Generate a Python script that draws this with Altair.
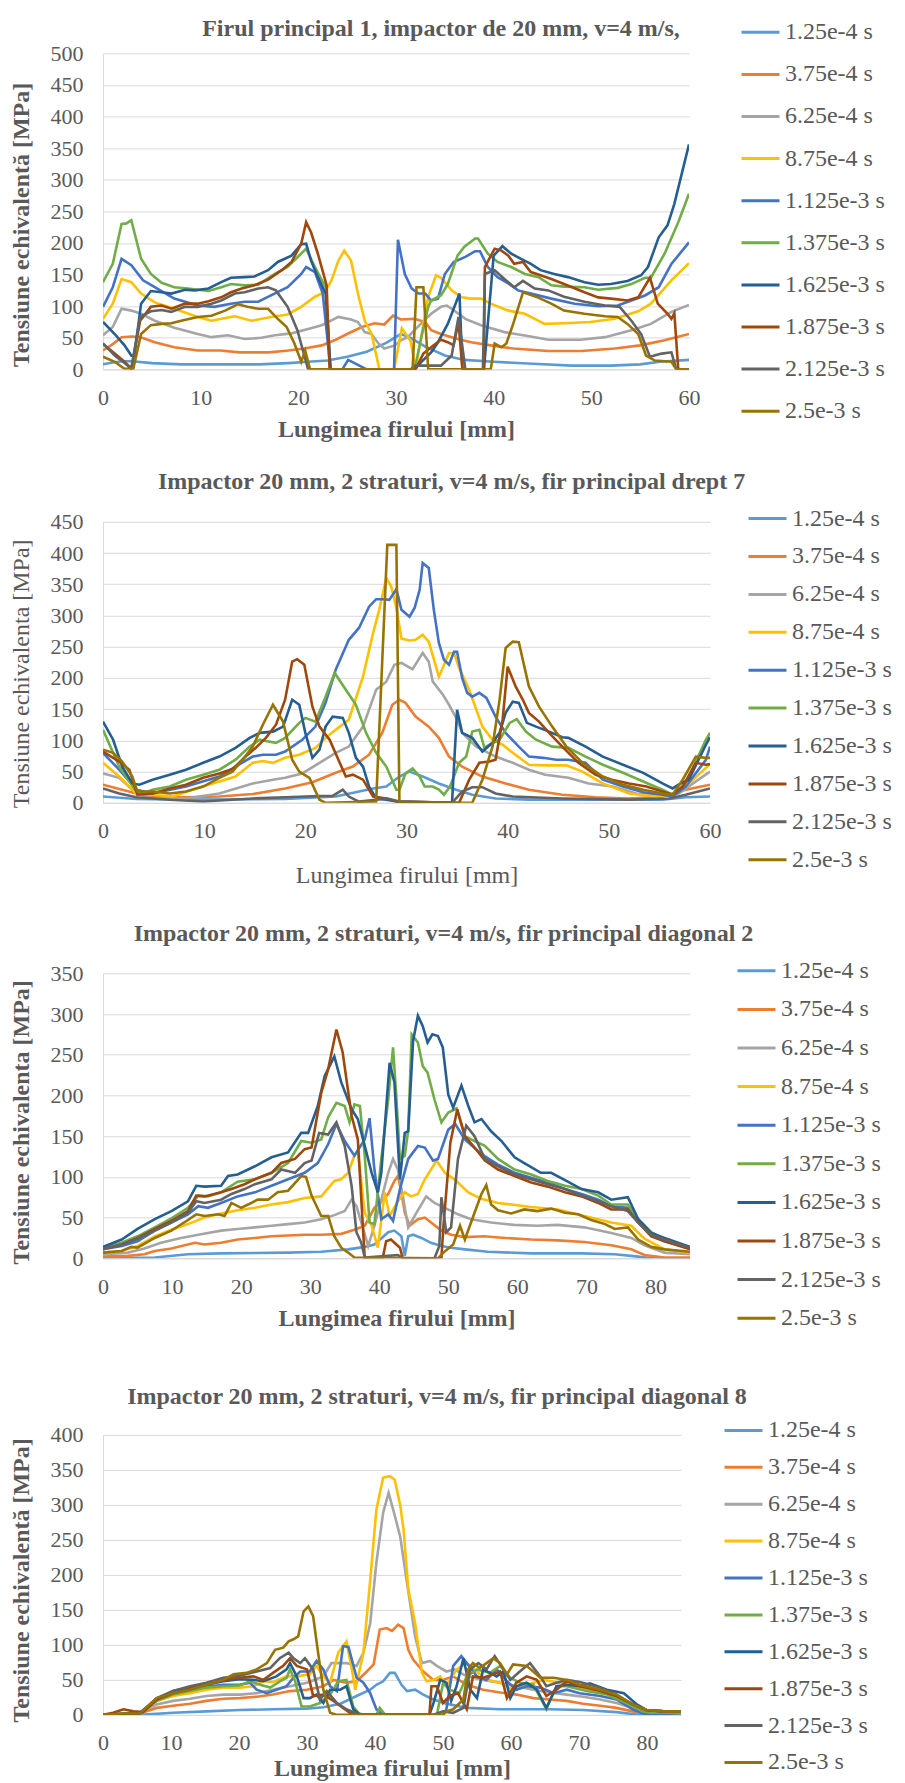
import altair as alt
import pandas as pd

SERIES = ["1.25e-4 s", "3.75e-4 s", "6.25e-4 s", "8.75e-4 s", "1.125e-3 s",
          "1.375e-3 s", "1.625e-3 s", "1.875e-3 s", "2.125e-3 s", "2.5e-3 s"]
COLORS = ["#5B9BD5", "#ED7D31", "#A5A5A5", "#FFC000", "#4472C4",
          "#70AD47", "#255E91", "#9E480E", "#636363", "#997300"]

TITLE1 = "Firul principal 1, impactor de 20 mm, v=4 m/s,"
TITLE2 = "Impactor 20 mm, 2 straturi, v=4 m/s, fir principal drept 7"
TITLE3 = "Impactor 20 mm, 2 straturi, v=4 m/s, fir principal diagonal 2"
TITLE4 = "Impactor 20 mm, 2 straturi, v=4 m/s, fir principal diagonal 8"
XTITLE = "Lungimea firului [mm]"
YTITLE_A = "Tensiune echivalentă [MPa]"
YTITLE_B = "Tensiune echivalenta [MPa]"
XTICKS_60 = [0, 10, 20, 30, 40, 50, 60]
XTICKS_85 = [0, 10, 20, 30, 40, 50, 60, 70, 80]

# ---------------- Panel 1 ----------------
P1_X1 = [0,1,2,3,5,8,12,16,19,21,23,25,27,29,30.5,31.5,33,35,37,40,44,48,52,55,57,60]
P1_Y1 = [8,11,13,13,10,8,8,8,10,12,14,20,28,42,56,50,36,22,15,12,9,6,6,8,12,15]
P1_X2 = [0,1,1.9,3,4,5.3,7.3,9.7,12,14,17,19,20.6,22.4,23.7,25,26.5,27.8,28.8,29.7,30.5,31.9,33,33.6,34.6,36.3,37.7,39.7,42,45.6,49,52.4,55,57.5,60]
P1_Y2 = [30,40,51,52,50,43,35,30,30,27,27,30,33,38,46,56,67,73,71,85,79,80,75,62,56,48,43,38,33,29,29,33,38,46,56]
P1_X3 = [0,1,1.9,2.9,3.9,5.3,7.3,9.7,11.1,12.8,14.5,16.2,17.6,19.3,21,22.4,24.1,25.4,26.1,26.8,27.5,28.2,28.8,29.9,30.5,31.2,32.2,33.6,34.6,35.2,35.7,37.1,38.7,41.1,43.8,45.6,48.9,51.4,54.1,56.1,58.2,60]
P1_Y3 = [54,67,96,93,88,77,66,56,51,54,48,50,54,57,64,70,83,79,75,59,56,41,33,38,46,51,67,88,99,101,96,80,70,59,52,47,47,51,62,72,91,102]
P1_X4 = [0,1,1.9,2.9,3.9,5.3,7.3,9.7,11.1,12.8,13.5,15.2,17.2,18.9,20.3,21.7,22.7,23.4,24.1,24.7,25.4,26.1,26.8,27.5,28.3,29.8,30.6,31.5,32.0,33.3,34.1,34.6,35.7,36.7,37.7,38.7,39.7,41.5,43.2,45.2,47.2,49.9,52.4,54.8,56.1,58.2,60]
P1_Y4 = [80,104,143,138,120,106,96,83,77,82,84,77,83,87,99,115,122,141,172,188,172,120,77,56,0,0,65,45,0,115,149,145,125,114,112,112,104,93,88,72,73,75,80,92,104,141,168]
P1_X5 = [0,1,1.9,2.9,4.1,5.3,7.3,9.7,11.4,13.1,14.5,15.9,17.2,18.9,20.3,20.8,21.7,22.5,23.3,24.5,25.1,26,27,29.8,30.2,30.9,31.6,32.3,33,33.6,34.3,35,35.9,37.1,38.1,38.6,39.4,40.4,41.5,42.5,43.8,45.9,48.3,50.7,52.7,54.1,55.5,56.9,58.2,60]
P1_Y5 = [99,130,175,165,141,130,112,101,99,104,107,107,117,130,151,162,154,120,0,0,15,8,0,0,205,151,128,120,120,109,112,151,170,178,187,187,162,146,136,125,120,112,104,100,101,109,117,130,167,201]
P1_X6 = [0,1,1.9,2.4,2.9,3.9,4.9,6,7.3,8.7,10.8,12.1,13.1,14.5,15.9,17.6,18.9,20.8,21.7,22.8,23.3,31.9,32.6,33.3,33.6,34.6,35.3,36.3,37,38.1,38.4,39.4,40.4,41.8,43.2,44.6,45.9,47.2,49.3,50.7,52.7,54.1,55.5,56.1,57.5,58.9,60]
P1_Y6 = [138,167,230,231,236,175,151,137,130,128,124,130,135,133,134,151,162,191,162,130,0,0,51,99,109,117,135,180,194,207,207,183,170,162,151,146,133,131,130,126,129,135,145,145,183,233,278]
P1_X7 = [0,1.2,2.2,2.9,3.2,3.9,4.9,6,7,8.4,9.4,10.8,12.1,13.1,14.5,15.5,16.9,17.9,19.3,20.3,20.8,21.3,22,22.8,23.3,31.9,32.6,33.6,34.3,35.3,36.1,36.5,36.8,39.0,40.0,40.9,41.8,42.8,43.8,44.8,46.2,47.6,49.3,50.7,52,53.7,55.1,55.8,56.9,57.8,58.5,60]
P1_Y7 = [75,56,38,22,21,104,124,122,120,126,125,128,138,145,146,147,157,170,180,198,199,172,146,120,0,0,12,27,43,72,104,120,0,0,180,195,183,175,167,157,151,146,138,134,135,140,149,162,209,228,262,356]
P1_X8 = [0,1.2,2.2,2.9,3.8,4.9,6,7,8.4,9.7,10.8,12.1,13.1,14.2,15.5,16.9,18.3,19.3,20.3,20.8,21.3,22,22.9,23.2,32.0,32.8,33.6,34.6,35.3,35.9,36.4,36.8,39.0,39.1,40.1,40.8,41.5,42.1,43,43.8,44.8,45.9,47.2,49.3,50.7,52,53.7,54.8,56,56.8,57.8,58.2,58.5,58.9,60]
P1_Y8 = [40,25,12,1,77,99,101,96,104,104,108,114,122,128,133,142,157,170,199,233,217,183,133,0,0,25,35,47,43,38,75,0,0,162,191,188,180,167,170,154,149,143,135,122,114,112,109,114,145,104,88,80,89,0,0]
P1_X9 = [0,1.2,2.2,2.9,3.8,4.9,6,7,8.4,9.7,11.1,12.1,13.5,14.5,15.9,16.9,17.7,18.9,19.9,21,31.5,31.9,34.6,35.7,36.4,37.1,38.9,39.1,40.1,41.1,42.1,43,44.2,45.6,47.2,49.3,51.4,52.9,54.1,55.1,56,57.2,58.2,58.7,60]
P1_Y9 = [41,22,10,1,83,92,94,91,99,99,104,109,120,122,128,130,125,99,62,0,0,6,6,22,83,0,0,151,157,143,130,140,128,125,115,107,101,99,77,56,20,25,27,0,0]
P1_X10 = [0,1.2,2.2,3.1,3.9,4.9,6,7,8,9.7,11.1,12.5,13.8,14.8,15.9,16.9,17.9,18.8,19.6,20.3,20.7,21.2,31.7,32.1,32.8,33.3,39.7,40.1,40.8,41.3,42,43,44.5,45.9,47.2,49.3,51.4,52.7,53.7,54.8,55.6,56.5,58.2,58.7,60]
P1_Y10 = [20,12,1,1,56,70,72,73,77,83,85,93,103,99,96,96,80,67,41,12,30,0,0,130,130,0,0,41,35,41,72,122,114,104,93,88,84,83,72,56,22,14,12,0,0]

# ---------------- Panel 2 ----------------
P2_X1 = [0,3.3,8.2,18,23,26.7,28,29.3,30.3,31.6,33.2,34.9,36.5,38.8,42.1,48.7,55.3,57.6,60]
P2_Y1 = [10,6,5,6,10,23,26,42,50,42,31,21,13,7,5,5,5,9,10]
P2_X2 = [0,3.3,4.9,8.2,11.5,14.8,18,20.7,23,24.7,26.3,27.6,28.6,29.3,29.9,30.9,32.2,33.2,34.2,35.5,37.5,39.8,42.1,45.4,48.7,52,55.3,57.6,60]
P2_Y2 = [29,15,10,9,10,14,23,33,48,58,77,112,157,165,160,138,122,104,74,58,42,31,21,13,9,7,10,21,29]
P2_X3 = [0,1.6,3.3,4.9,8.2,11.5,14.8,16.8,18,19.7,21.4,23,24.3,25.7,27,28,28.8,29.5,30.6,31.6,32.2,32.6,33.6,34.2,35,35.5,36.9,38.8,40.5,42.1,43.7,46,48,50.4,52.7,55.3,56.9,60]
P2_Y3 = [47,40,15,7,7,15,31,37,40,47,64,80,90,122,181,194,221,224,214,240,226,194,173,157,133,112,90,74,64,53,45,40,31,26,15,11,15,50]
P2_X4 = [0,1.6,3.3,4.9,6.9,9.2,11.5,13.1,14.8,15.8,16.8,18,19.4,21,22,23.4,24.3,25.7,26.7,27.3,28,28.5,29,29.5,30.3,30.9,31.6,32.2,33.2,34.2,34.7,35.2,36.2,37.5,38.5,39.5,40.5,42.1,43.7,45.8,47.4,49.4,52,54.7,56.3,57.6,60]
P2_Y4 = [64,42,15,13,10,23,34,42,64,67,64,72,77,88,104,122,133,202,272,309,360,346,312,263,260,261,269,258,202,240,240,216,181,122,101,93,80,61,60,60,50,31,15,10,13,26,62]
P2_X5 = [0,1.6,3.3,4.9,8.2,11.5,13.1,14.8,15.8,17.1,18,19.7,21,22,23,24.3,25.3,26.3,27,27.8,28.3,29,29.5,30.3,30.8,31.3,31.6,32.2,32.7,33.2,33.7,34.2,34.7,35,35.5,36,36.5,37.2,37.9,38.8,39.8,41.1,42.1,43.5,44.8,46,47.7,49.4,51.4,53.4,55.3,56.3,57.6,59.6,60]
P2_Y5 = [80,53,21,15,26,42,58,74,77,77,82,101,122,160,213,261,280,314,326,326,325,342,309,298,312,341,384,376,309,256,229,221,242,242,200,176,170,176,168,138,112,90,74,72,69,69,64,37,26,17,13,10,26,69,90]
P2_X6 = [0,1.6,3.3,3.9,4.9,6.6,8.2,9.9,11.5,13.1,14.5,15.5,16.1,17.1,18,19.4,20,21,22,22.9,24,25,26,27,28,29,29.3,29.9,30.6,31.3,31.8,32.6,33.2,33.7,34.3,35.2,35.9,36.5,37.2,37.7,38.2,39.2,40.2,40.9,41.8,42.8,44.4,46,47.7,49.4,51.4,53.4,55.3,56.3,57.6,59.6,60]
P2_Y6 = [117,58,18,15,21,26,37,45,53,69,90,101,99,96,104,128,136,130,170,208,181,157,112,80,58,21,21,47,55,42,26,26,21,13,26,64,74,114,117,88,93,101,128,134,114,101,90,88,74,61,48,34,21,13,31,101,112]
P2_X7 = [0,1,1.9,2.9,3.6,4.9,6.6,8.2,9.9,11.5,13.1,14.5,15.5,16.8,17.8,18.7,19.4,20,20.7,21.4,22,22.7,23.7,24.3,25,25.7,26.3,27,28,29,34.5,35,35.5,36.5,37.5,38.5,39.2,39.8,40.5,41.1,41.9,42.8,44.1,45.4,46,47.7,49.4,51.4,53.4,55.3,56.3,56.9,57.9,59.6,60]
P2_Y7 = [130,101,58,31,29,37,45,53,64,74,88,104,112,114,122,165,157,112,72,85,122,138,136,112,72,58,26,7,5,2,0,149,112,104,82,96,112,144,162,160,128,122,114,105,104,90,74,61,48,31,23,29,37,93,105]
P2_X8 = [0,1.6,2.6,3.4,4.9,6.6,8.2,9.9,11.5,12.8,14.1,15.1,16.1,17.1,18,18.7,19.2,19.9,20.7,21.4,22.4,23.4,24,24.7,25.7,26.7,28,29,35.2,36.2,37.2,38.2,38.8,39.5,40,40.8,41.5,42.1,43.1,44.1,45.4,47,48.7,50.3,52,53.7,55.3,56.3,57.3,58.6,59.6,60]
P2_Y8 = [82,66,53,13,15,23,29,40,47,54,74,88,104,125,165,226,230,221,154,122,101,64,42,45,37,10,7,2,0,37,64,66,69,133,218,186,165,144,130,112,90,64,45,37,31,26,18,13,26,64,61,62]
P2_X9 = [0,1.6,3.3,6.6,9.9,14.8,18,21.4,22.7,23.7,24.3,25.3,27,28,29.3,34.5,35.5,36.5,37.5,38.8,40.5,45.4,52,56,57.6,60]
P2_Y9 = [23,15,9,5,2,7,9,11,11,21,10,2,5,7,2,0,18,25,25,15,10,7,5,7,13,23]
P2_X10 = [0,1,1.9,2.9,3.4,4.9,6.6,8.2,9.9,11.5,12.8,13.8,14.8,15.8,16.8,17.8,18.7,19.4,20.4,21.4,22,27,28.1,29,29.3,36.5,37.5,38.5,39.2,39.8,40.5,41.1,42.1,43.1,44.4,45.8,47.4,49.4,51.4,53.4,55.3,56.3,57.3,58.6,59.6,60]
P2_Y10 = [85,80,66,42,18,18,15,18,26,40,50,69,90,125,157,130,69,50,40,5,0,2,413,413,0,0,37,90,165,248,258,257,186,154,122,90,64,42,29,21,15,13,37,74,72,72]

# ---------------- Panel 3 ----------------
P3_X1 = [0,7.5,12.3,17,26.8,31.6,35.5,37.9,39.3,41.3,42.2,43.2,43.7,44.2,44.9,46.1,47.5,49,50.4,52.4,55.7,62,69.3,74.1,77.5,79.4,85]
P3_Y1 = [0,1,5,6,7,8,11,14,17,32,34,27,3,27,29,25,19,15,13,11,8,6,6,5,2,0,0]
P3_X2 = [0,3.6,6,7.5,9.9,13.3,14.7,17.1,19.5,22,24.4,26.8,29.2,31.6,34.5,36.4,37.9,39.3,40.3,41.3,42.2,42.7,43.2,43.7,44.4,45.6,46.6,47.5,49,50.4,52.4,55.2,58.2,62,65.8,69.7,73.6,76.5,78.4,81.3,85]
P3_Y2 = [2,3,5,9,12,19,17,19,23,25,27,28,29,29,30,35,40,62,70,79,95,101,81,56,40,48,50,44,34,29,26,27,25,23,22,20,16,11,4,1,1]
P3_X3 = [0,3.6,6,8.4,11.3,13.8,17.1,19.5,22,24.4,26.8,29.2,31.6,33.5,35,36,36.7,37.4,38.4,39.3,40.3,41.3,42,42.7,43.4,44.2,45.4,46.8,48,49.5,51.4,53.3,56.2,59.5,62.9,65.8,69.7,73.6,76.5,78.4,81.3,85]
P3_Y3 = [5,7,12,19,25,29,34,36,38,40,42,44,48,53,58,72,64,44,15,40,72,105,122,109,77,38,56,76,68,62,54,48,44,41,40,41,38,31,25,16,7,5]
P3_X4 = [0,2.7,5,7.5,9.9,12.3,14.7,17.1,19.5,22,24.4,26.8,29.2,31.6,33.5,34.5,35.5,36.4,36.9,37.9,38.9,39.8,40.8,41.5,42.7,43.7,44.6,45.6,46.6,48.3,49.5,50.9,52.9,54.8,57.2,59.1,62,65.9,69.7,73.6,76.5,78.4,81.3,85]
P3_Y4 = [7,9,15,27,35,42,50,55,59,62,66,69,74,76,95,97,105,126,132,56,40,13,81,52,70,81,76,79,97,120,105,97,81,73,68,66,63,60,52,44,40,24,11,7]
P3_X5 = [0,2.7,5,7.5,9.9,12.3,13.8,15.2,17.1,19.5,22,24.4,26.8,29.2,31.1,32.6,33.8,35,36.4,37.9,38.6,39.3,40.3,41.3,42,43,44.2,45.6,46.6,47.8,48.5,50,51,52.4,54.8,57.2,59.6,62,64.4,66.9,69.3,71.7,73.6,76,77.5,79.4,81.3,85]
P3_Y5 = [11,15,21,34,44,54,64,62,68,76,81,89,97,105,117,140,165,144,126,146,172,109,48,54,46,85,122,138,136,120,122,158,165,146,128,115,105,99,93,85,79,72,64,62,44,29,21,13]
P3_X6 = [0,2.7,5,7.5,9.9,12.3,13.8,15.2,17.1,19.5,22,24.4,26.8,28.7,30.2,31.6,32.6,33.8,35,35.7,36.4,37.2,37.9,38.6,39.3,40.3,41.3,42,42.5,43,43.7,44.2,44.7,45.6,46.3,47,48,49,50,51.2,52.4,53.8,55.3,57.2,59.6,62,64.4,66.9,69.3,71.7,73.6,76,77.5,79.4,81.3,85]
P3_Y6 = [13,19,27,38,49,62,77,76,81,94,97,105,117,144,142,146,173,191,187,167,189,187,126,44,42,122,195,259,195,122,126,158,275,265,236,228,195,167,179,184,150,144,138,122,109,103,95,89,85,77,66,66,48,32,23,13]
P3_X7 = [0,2.7,5,7.5,9.9,12.3,13.5,14.7,17.1,18.1,19.5,22,24.4,26.8,28.7,29.7,31.1,32.1,33.5,34.5,36,36.9,37.9,38.9,39.8,40.3,41.5,42.2,43,43.7,44.2,44.9,45.6,46.3,47,47.7,48.5,49.2,50,50.7,51.9,52.9,53.8,54.8,56.2,57.7,59.6,61,63.4,64.9,66.9,69.3,71.7,73.6,76,77.5,79.4,81.3,85]
P3_Y7 = [14,23,36,48,58,70,89,88,89,101,103,113,124,130,154,154,187,224,248,216,183,171,138,105,81,105,240,216,97,154,156,267,298,285,265,275,273,259,201,185,212,187,167,171,156,144,124,117,105,105,96,85,81,72,75,48,31,25,14]
P3_X8 = [0,2.7,5,7.5,9.9,12.3,13.5,14.7,17.1,18.6,20.5,22,24.4,25.8,27.8,29.2,30.2,31.6,32.6,33.8,34.7,36,36.9,37.9,40.5,41,41.7,43,43.4,49,49.3,50.3,51.3,52.4,53.8,55.3,57.2,59.6,62,64.4,66.9,69.3,71.7,73.6,76,77.5,79.4,81.3,85]
P3_Y8 = [11,17,25,36,46,58,77,76,81,85,91,97,105,117,122,134,136,203,232,281,253,175,146,0,0,21,23,13,0,0,40,142,183,150,136,120,109,101,93,88,81,76,68,60,60,44,27,21,11]
P3_X9 = [0,2.7,5,7.5,9.9,12.3,13.5,14.7,17.1,18.6,20.5,22,24.4,25.8,27.8,29.2,30.2,31.3,32.6,33.8,35,36,36.7,37.4,37.9,41.3,42.7,43.5,48,48.7,49,49.7,50.4,51.4,52.6,53.8,55.3,57.2,59.6,62,64.4,66.9,69.3,71.7,73.6,76,77.5,79.4,81.3,85]
P3_Y9 = [12,17,24,34,44,56,70,68,72,79,85,91,97,109,105,117,120,154,152,167,138,89,32,19,1,3,4,0,0,15,75,32,38,122,163,150,122,113,103,97,91,85,77,70,64,58,44,29,23,13]
P3_X10 = [0,2.7,4.1,5,7.5,9.9,12.3,13.5,14.7,16.7,17.6,18.6,20,21,22.4,23.9,25.3,26.8,28.7,29.4,30.2,31.6,32.6,33.5,34.5,35.5,36.4,48.5,49.3,50.7,51.7,52.4,53.8,54.8,55.5,56.2,57.2,59.1,61,62.9,64.9,66.9,68.8,70.7,72.7,74.1,76,77.5,79.4,81.3,85]
P3_Y10 = [7,9,14,13,25,34,47,54,52,54,52,68,62,66,72,72,81,83,101,100,77,52,52,27,13,7,1,0,7,17,40,23,56,79,90,66,59,55,60,58,61,56,54,47,42,36,38,23,14,11,8]

# ---------------- Panel 4 ----------------
P4_X1 = [0,5.4,10.3,15.2,20.1,25,30,32.4,34.9,37.3,39.3,40.2,41.2,42.2,42.9,43.9,44.7,45.9,47.1,48.6,50.5,53.5,58.4,65.7,70.6,75.5,78.9,85]
P4_Y1 = [0,0,3,5,7,8,9,11,16,27,36,43,48,60,60,43,34,36,29,22,16,10,8,8,7,4,0,0]
P4_X2 = [0,5.4,7.9,10.3,12.8,15.2,17.7,20.1,22.6,25,27.5,30,32.4,33.9,35.8,37.3,38.8,39.8,40.7,41.7,42.5,43.4,44.2,44.9,45.6,47.1,48.6,50,51.5,53.5,55.9,58.4,60.8,63.3,65.7,68.2,70.6,73.1,75.5,77.9,80.4,85]
P4_Y2 = [0,2,10,13,16,20,23,24,26,29,34,36,41,50,46,48,62,72,122,124,120,129,124,93,79,62,50,50,55,43,36,32,29,24,22,20,16,13,10,5,1,0]
P4_X3 = [0,5.4,7.9,10.3,12.8,15.2,17.7,20.1,22.6,25,27.5,30,32.4,33.6,35.8,37.3,38.3,39.3,40.2,41.2,42,42.9,43.7,44.7,45.9,46.9,48.1,49.1,50.5,51.7,53.5,55.9,58.4,60.8,63.3,65.7,68.2,70.6,73.1,75.5,77.9,80.4,85]
P4_Y3 = [0,3,15,20,23,27,29,29,31,36,41,46,55,74,74,70,89,131,217,289,317,285,255,189,112,74,77,70,62,65,55,50,46,41,36,32,29,26,22,17,10,4,2]
P4_X4 = [0,5.4,7.9,10.3,12.8,15.2,17.7,20.1,22.1,23.6,25,27,28.5,30.4,31.4,32.4,33.4,34.6,35.8,36.6,37.1,38.3,39.3,40.2,41.2,42.2,42.9,43.7,44.2,44.9,45.9,46.9,47.6,48.6,49.6,50.5,52,53.5,55,56.4,58.4,60.3,62.3,64.8,67.2,70.1,73.1,75.5,77.9,80.4,85]
P4_Y4 = [0,2,20,27,31,36,39,39,41,48,47,55,55,58,70,55,46,89,105,65,36,89,193,293,339,341,336,300,265,179,131,60,48,50,55,41,65,74,62,50,46,36,43,50,46,39,34,27,12,4,2]
P4_X5 = [0,5.4,7.9,10.3,12.8,15.2,17.7,20.1,21.6,22.6,24.1,25.5,27,28,29,30.4,31.4,32.4,33.4,34.4,35.3,36.1,37.3,38.3,39.3,40.2,41.2,50,50.5,51.5,52.7,53.5,55,56.4,57.9,59.4,60.8,62.3,64.3,66.3,68.2,70.1,73.1,75.5,77.9,79.9,85]
P4_Y5 = [0,3,22,31,36,40,43,43,46,36,31,36,41,53,62,62,77,65,41,34,98,97,53,46,31,8,0,0,8,70,84,74,55,50,65,48,36,41,39,31,36,31,27,22,8,0,0]
P4_X6 = [0,5.4,7.9,10.3,12.8,15.2,17.7,20.1,21.6,23.1,24.6,26,27,27.5,28.2,29.2,30.4,31.9,33.4,34.6,35.8,36.8,37.8,40.2,40.7,41.5,49.1,50,51,52.4,53.5,55,56.9,58.4,59.9,61.3,63.3,65.2,66.7,68.2,71.1,74.1,77,79.4,85]
P4_Y6 = [0,2,20,29,34,39,41,42,48,43,39,48,53,65,50,12,12,17,29,48,50,12,0,0,10,0,0,45,36,31,55,65,60,70,53,46,43,8,41,41,34,29,17,5,2]
P4_X7 = [0,5.4,7.9,10.3,12.8,15.2,17.7,20.1,22.1,23.6,25.5,27,27.5,28.5,29.5,30.4,31.4,32.4,33.4,34.9,35.8,36.8,37.8,48,48.6,49.6,50.5,51.2,52,53,54,55,55.9,56.9,57.9,58.9,59.9,60.8,62.3,63.8,65.2,66.7,68.2,70.1,71.6,74.1,76.6,78.5,79.9,82.5,85]
P4_Y7 = [0,2,22,34,39,43,48,51,50,48,55,65,74,55,24,24,29,17,36,36,41,8,0,0,17,50,46,20,41,81,36,24,65,60,55,62,24,41,46,36,10,41,43,41,45,36,31,15,7,5,5]
P4_X8 = [0,1.5,3,4.5,5.9,7.9,10.3,12.8,15.2,17.7,20.1,22.1,23.6,25,26.5,27.5,28.5,30,30.9,32.4,33.9,35.3,36.3,37.3,48,48.3,49.1,50,51,52.2,53.5,54.4,55.9,57.4,58.4,59.4,60.8,62.3,63.8,65.2,66.7,68.2,70.1,73.1,75.5,77.9,79.9,82.5,85]
P4_Y8 = [0,3,8,5,4,22,31,39,43,50,53,55,50,60,70,81,70,65,27,29,20,10,3,0,0,41,41,17,27,31,8,55,53,58,62,24,46,55,50,27,36,48,41,34,27,15,7,5,5]
P4_X9 = [0,5.4,7.9,10.3,12.8,15.2,17.7,20.1,22.6,24.6,26,27.3,28,29,29.7,30.9,31.9,32.9,34.4,35.8,37.3,38.8,48.5,50,51.5,53,54,55.2,56.4,57.6,58.9,59.9,61.3,62.8,64.3,65.2,66.7,68.2,70.1,73.1,75.5,77.9,79.9,82.5,85]
P4_Y9 = [0,2,24,34,41,46,53,56,62,67,81,89,81,74,81,65,22,34,17,8,2,0,0,5,3,10,65,74,65,84,65,50,62,74,55,41,46,50,47,39,29,15,7,5,5]
P4_X10 = [0,3,5.4,7.9,10.3,12.8,15.2,17.7,19.2,21.1,22.6,24.1,25.3,26.5,27.3,28,28.7,29.5,30.2,30.9,31.7,32.4,33.4,34.4,50,50.5,51.5,53,53.7,54.4,55.4,56.4,57.4,58.4,59.4,60.3,62.3,64.3,66.3,68.2,70.1,73.1,75.5,77.9,79.9,82.5,85]
P4_Y10 = [0,2,2,24,31,36,43,50,58,60,65,74,93,96,105,108,112,148,155,141,84,36,3,0,0,5,8,22,65,74,67,74,81,74,58,72,70,53,53,50,43,36,29,15,7,5,5]

FONT = "Liberation Serif"
GREY = "#595959"
GRID = "#D9D9D9"


def make_df(xs, ys):
    rows = []
    for name, xl, yl in zip(SERIES, xs, ys):
        if len(xl) != len(yl):
            raise ValueError(f"{name}: {len(xl)} x vs {len(yl)} y")
        for i, (a, b) in enumerate(zip(xl, yl)):
            rows.append({"series": name, "x": a, "y": b, "i": i})
    return pd.DataFrame(rows)


def panel(df, title, width, height, xmax, xticks, ymax, ytitle, bold,
          title_offset, title_dx, xtitle_pad, ytitle_shift, leg_x, leg_y, leg_row_pad):
    weight = "bold" if bold else "normal"
    xaxis = alt.Axis(values=xticks, title=XTITLE, grid=False, ticks=False, tickSize=0,
                     labelPadding=18, titlePadding=xtitle_pad, titleFontWeight=weight,
                     labelFlush=False, labelOverlap=False,
                     labelFont=FONT, labelFontSize=22, labelColor=GREY,
                     titleFont=FONT, titleFontSize=24, titleColor=GREY,
                     domainColor=GRID, domainWidth=1)
    yaxis = alt.Axis(values=list(range(0, ymax + 1, 50)), title=ytitle, grid=True,
                     ticks=False, tickSize=0, labelPadding=20, titlePadding=17,
                     titleX=-70, titleY=height / 2 + ytitle_shift,
                     titleFontWeight=weight, labelOverlap=False,
                     labelFont=FONT, labelFontSize=22, labelColor=GREY,
                     titleFont=FONT, titleFontSize=24, titleColor=GREY,
                     domainColor=GRID, domainWidth=1, gridColor=GRID, gridWidth=1)
    legend = alt.Legend(title=None, orient="none", legendX=leg_x, legendY=leg_y,
                        direction="vertical", symbolType="stroke", symbolSize=1444,
                        symbolStrokeWidth=3, labelFont=FONT, labelFontSize=24,
                        labelColor=GREY, labelOffset=4, rowPadding=leg_row_pad,
                        padding=0, labelLimit=200)
    return alt.Chart(df).mark_line(strokeWidth=2.6, clip=True).encode(
        x=alt.X("x:Q", scale=alt.Scale(domain=[0, xmax], nice=False), axis=xaxis),
        y=alt.Y("y:Q", scale=alt.Scale(domain=[0, ymax], nice=False), axis=yaxis),
        color=alt.Color("series:N", scale=alt.Scale(domain=SERIES, range=COLORS), legend=legend),
        order=alt.Order("i:Q"),
    ).properties(
        width=width, height=height,
        title=alt.TitleParams(title, offset=title_offset, dx=title_dx, anchor="middle",
                              frame="group", fontWeight="bold", fontSize=24,
                              font=FONT, color=GREY),
    )


df1 = make_df([P1_X1, P1_X2, P1_X3, P1_X4, P1_X5, P1_X6, P1_X7, P1_X8, P1_X9, P1_X10],
              [P1_Y1, P1_Y2, P1_Y3, P1_Y4, P1_Y5, P1_Y6, P1_Y7, P1_Y8, P1_Y9, P1_Y10])
df2 = make_df([P2_X1, P2_X2, P2_X3, P2_X4, P2_X5, P2_X6, P2_X7, P2_X8, P2_X9, P2_X10],
              [P2_Y1, P2_Y2, P2_Y3, P2_Y4, P2_Y5, P2_Y6, P2_Y7, P2_Y8, P2_Y9, P2_Y10])
df3 = make_df([P3_X1, P3_X2, P3_X3, P3_X4, P3_X5, P3_X6, P3_X7, P3_X8, P3_X9, P3_X10],
              [P3_Y1, P3_Y2, P3_Y3, P3_Y4, P3_Y5, P3_Y6, P3_Y7, P3_Y8, P3_Y9, P3_Y10])
df4 = make_df([P4_X1, P4_X2, P4_X3, P4_X4, P4_X5, P4_X6, P4_X7, P4_X8, P4_X9, P4_X10],
              [P4_Y1, P4_Y2, P4_Y3, P4_Y4, P4_Y5, P4_Y6, P4_Y7, P4_Y8, P4_Y9, P4_Y10])

p1 = panel(df1, TITLE1, 586, 316, 60, XTICKS_60, 500, YTITLE_A, True,
           -29.6, 45, 9, 13, 637, -41.6, 9.1)
p2 = panel(df2, TITLE2, 607, 281, 60, XTICKS_60, 450, YTITLE_B, False,
           3.7, 45, 22, 11, 644, -23.7, 4.9)
p3 = panel(df3, TITLE3, 587, 285, 85, XTICKS_85, 350, YTITLE_B, True,
           3.8, 47, 9, 6, 633, -23, 5.6)
p4 = panel(df4, TITLE4, 578, 280, 85, XTICKS_85, 400, YTITLE_A, True,
           0.7, 45, 3, 5, 620, -25, 3.9)


def stack(a, b, gap):
    return alt.vconcat(a, b, spacing=gap).resolve_scale(color="independent").resolve_legend(color="independent")


inner2 = stack(p3, p4, 54.6)
inner1 = stack(p2, inner2, 34.5)
chart = alt.vconcat(p1, inner1, spacing=28.4,
                    padding={"left": 0, "top": 3.4, "right": 0, "bottom": 0}) \
    .resolve_scale(color="independent").resolve_legend(color="independent") \
    .configure(font=FONT) \
    .configure_view(stroke=None)

chart.save("out.html", embed_options={"renderer": "svg", "actions": False})
